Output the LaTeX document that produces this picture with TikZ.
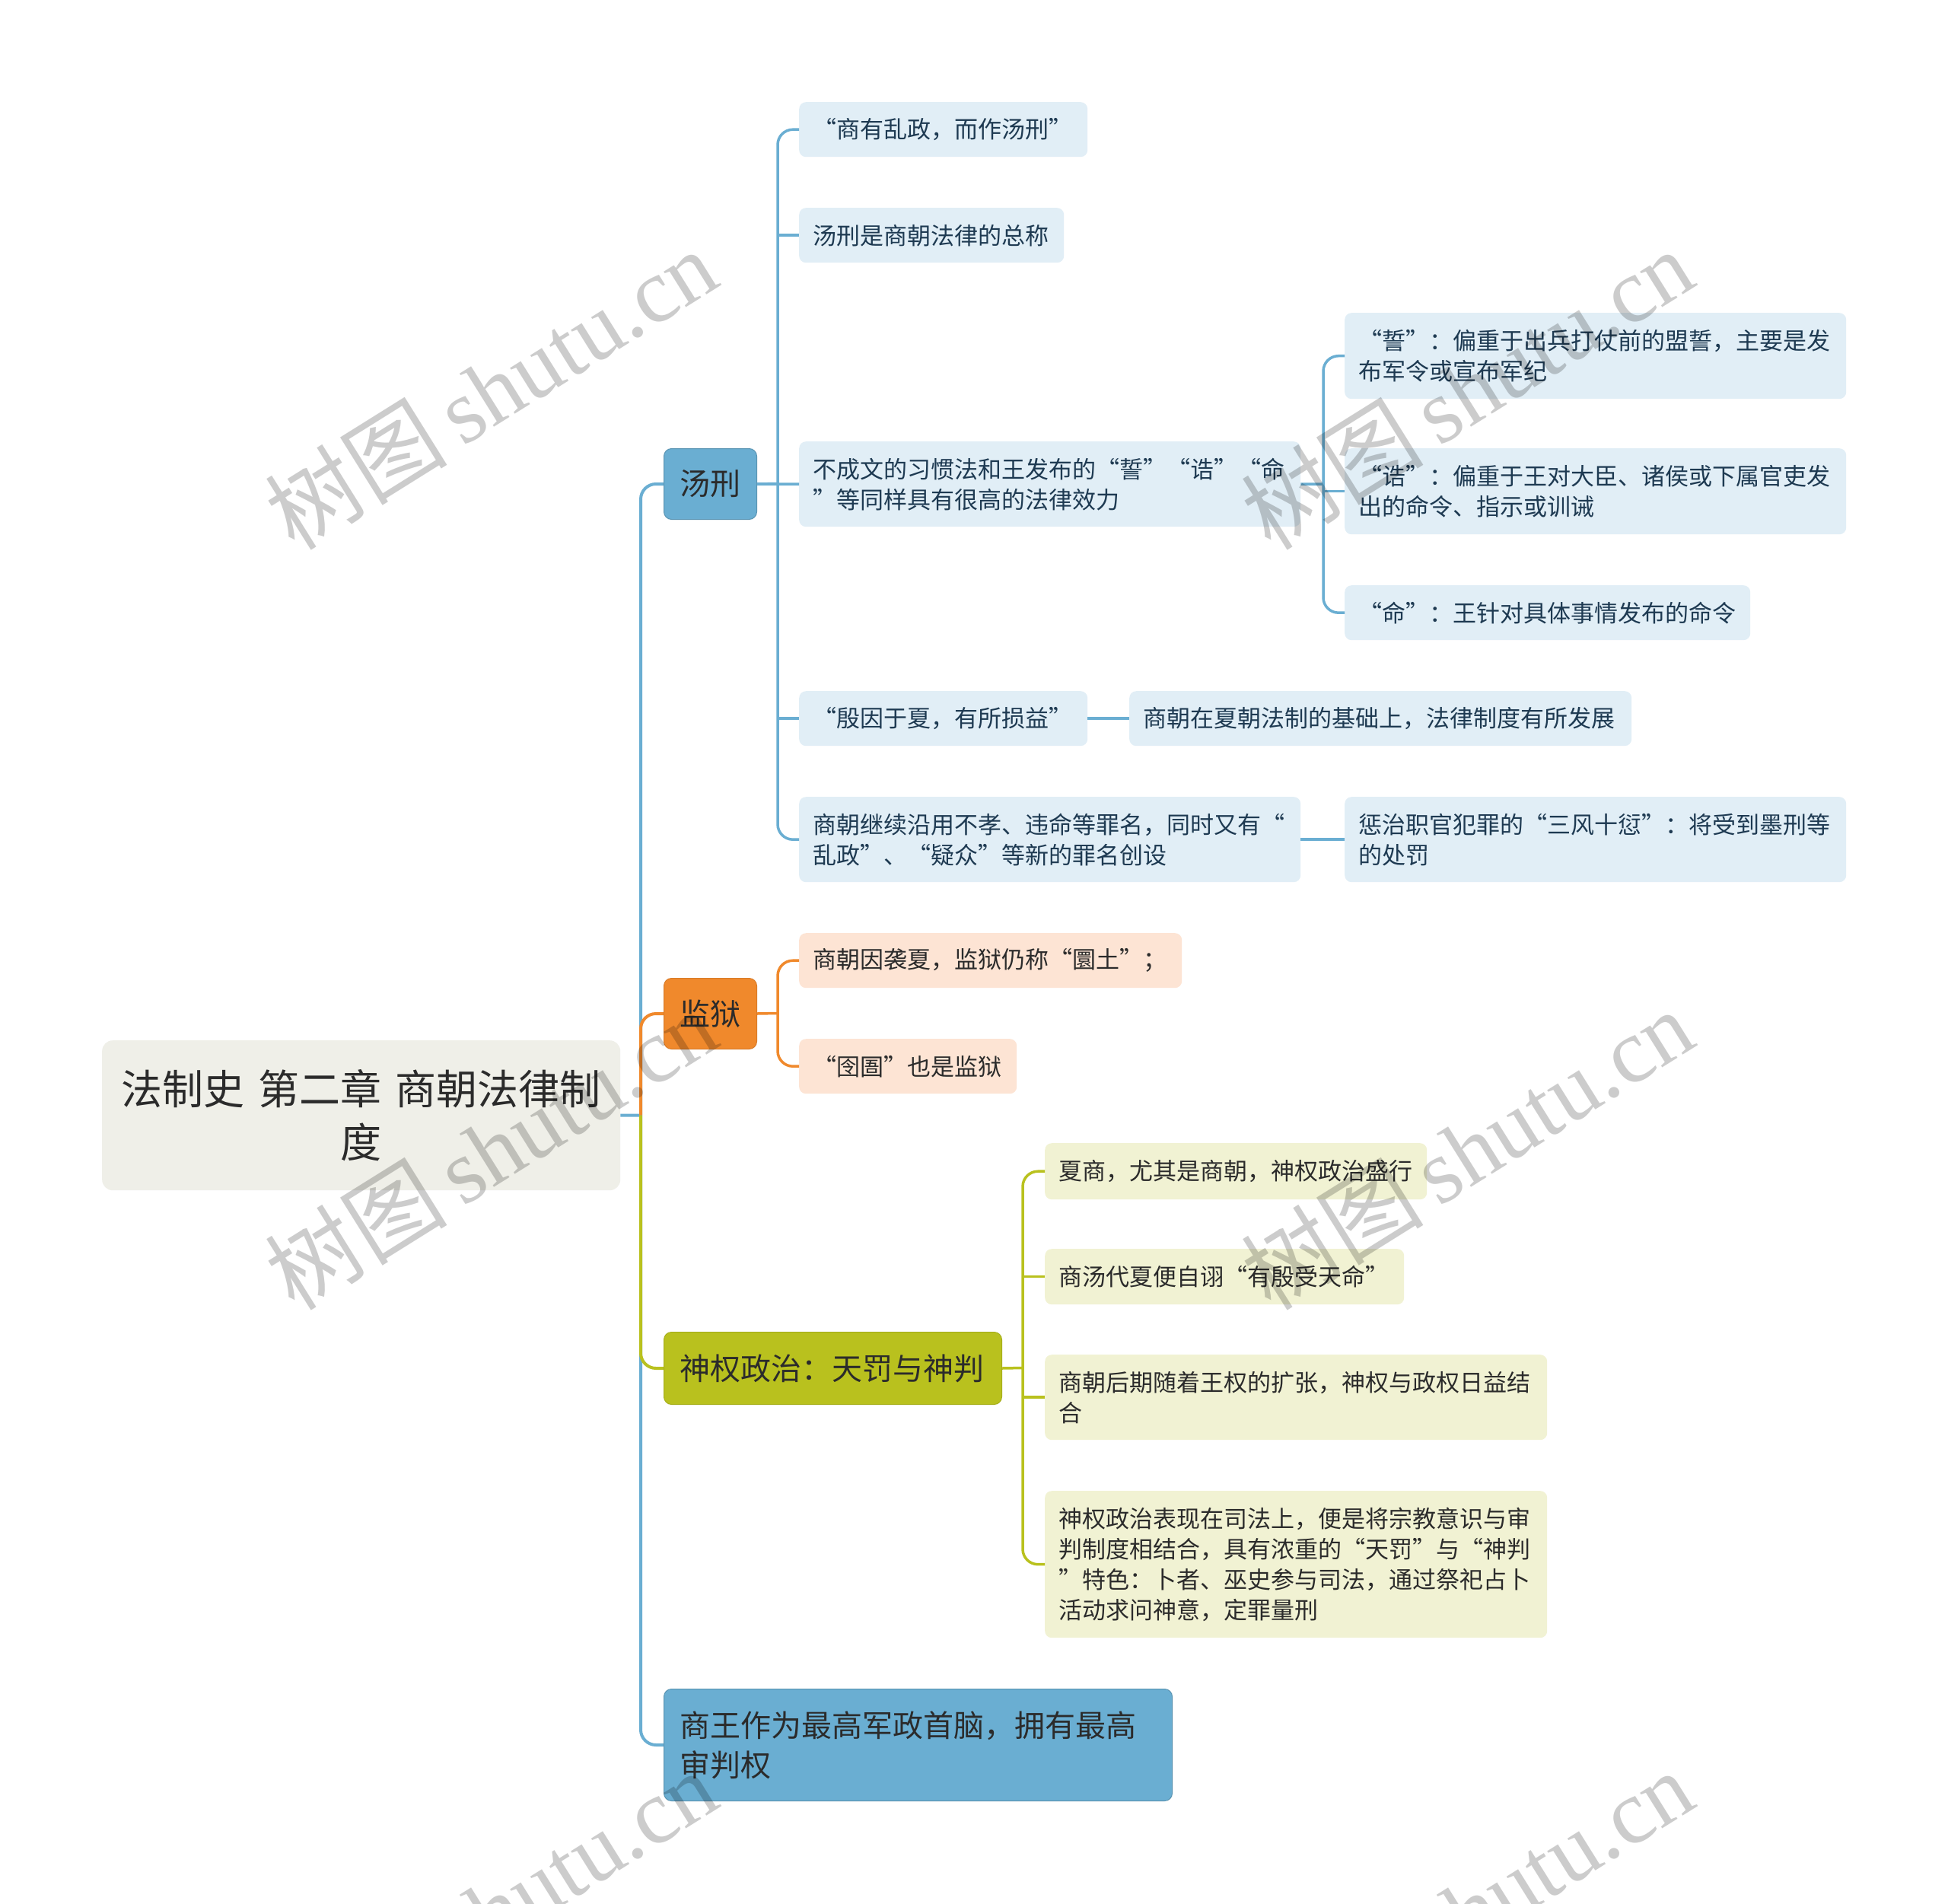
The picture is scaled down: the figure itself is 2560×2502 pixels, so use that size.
\documentclass[tikz,border=0pt]{standalone}
\usepackage{fontspec}
\setmainfont{Noto Sans CJK SC}
\newfontfamily\cjk{Noto Sans CJK SC}
\newfontfamily\wmlat{Liberation Serif}
\definecolor{blueM}{HTML}{6AAED2}
\definecolor{blueL}{HTML}{E1EEF6}
\definecolor{blueT}{HTML}{1E3A52}
\definecolor{orgM}{HTML}{F0892C}
\definecolor{orgL}{HTML}{FDE4D4}
\definecolor{oliM}{HTML}{B9C11E}
\definecolor{oliL}{HTML}{F1F2D3}
\definecolor{rootF}{HTML}{EFEFE8}
\definecolor{txtD}{HTML}{2B2B2B}
\newcommand\oq{\makebox[1em][r]{“}}
\newcommand\cq{\makebox[1em][l]{”}}
\tikzset{
  box/.style={rounded corners=9pt, anchor=north west, inner xsep=18pt, inner ysep=0pt, align=left, font=\cjk\fontsize{31}{40}\selectfont},
  l2b/.style={box, fill=blueL, text=blueT},
  l2o/.style={box, fill=orgL, text=txtD},
  l2y/.style={box, fill=oliL, text=txtD},
  l1/.style={rounded corners=10pt, anchor=north west, inner xsep=21pt, inner ysep=0pt, font=\cjk\fontsize{40}{52}\selectfont, text=txtD, line width=1pt},
  conn/.style={line width=4pt},
  conn2/.style={line width=3.5pt},
  rc/.style={rounded corners=20pt},
  wm/.style={rotate=32, text=black, text opacity=0.2, font=\fontsize{120}{120}\selectfont},
}
\begin{document}
\begin{tikzpicture}[x=1pt,y=-1pt]
\useasboundingbox (0,0) rectangle (2560,2502);
\fill[white] (0,0) rectangle (2560,2502);

% root
\node[rounded corners=14pt, fill=rootF, anchor=north west, minimum height=197pt, text width=641pt, inner xsep=20pt, inner ysep=0pt, align=center, font=\cjk\fontsize{54}{70}\selectfont, text=txtD] (root) at (134,1367) {法制史 第二章 商朝法律制\\度};

% level 1
\node[l1, fill=blueM, draw=blueM!85!black, minimum height=93pt, text width=80pt, align=center] (tx) at (872,589) {汤刑};
\node[l1, fill=orgM, draw=orgM!90!black, minimum height=93pt, text width=80pt, align=center] (jy) at (872,1285) {监狱};
\node[l1, fill=oliM, draw=oliM!90!black, minimum height=95pt, text width=402pt, align=left] (sq) at (872,1750) {神权政治：天罚与神判};
\node[l1, fill=blueM, draw=blueM!85!black, minimum height=147pt, text width=626pt, align=left] (sw) at (872,2219) {商王作为最高军政首脑，拥有最高\\审判权};

% level 2 blue
\node[l2b, minimum height=72pt, text width=343pt] (a1) at (1050,134) {\oq 商有乱政，而作汤刑\cq};
\node[l2b, minimum height=72pt, text width=312pt] (a2) at (1050,273) {汤刑是商朝法律的总称};
\node[l2b, minimum height=112pt, text width=623pt] (a3) at (1050,580) {不成文的习惯法和王发布的\oq 誓\cq\oq 诰\cq\oq 命\\\cq 等同样具有很高的法律效力};
\node[l2b, minimum height=72pt, text width=343pt] (a4) at (1050,908) {\oq 殷因于夏，有所损益\cq};
\node[l2b, minimum height=112pt, text width=623pt] (a5) at (1050,1047) {商朝继续沿用不孝、违命等罪名，同时又有\oq\\乱政\cq 、\oq 疑众\cq 等新的罪名创设};

% level 3 blue
\node[l2b, minimum height=113pt, text width=623pt] (b1) at (1767,411) {\oq 誓\cq ：偏重于出兵打仗前的盟誓，主要是发\\布军令或宣布军纪};
\node[l2b, minimum height=113pt, text width=623pt] (b2) at (1767,589) {\oq 诰\cq ：偏重于王对大臣、诸侯或下属官吏发\\出的命令、指示或训诫};
\node[l2b, minimum height=72pt, text width=497pt] (b3) at (1767,769) {\oq 命\cq ：王针对具体事情发布的命令};
\node[l2b, minimum height=72pt, text width=624pt] (b4) at (1484,908) {商朝在夏朝法制的基础上，法律制度有所发展};
\node[l2b, minimum height=112pt, text width=623pt] (b5) at (1767,1047) {惩治职官犯罪的\oq 三风十愆\cq ：将受到墨刑等\\的处罚};

% level 2 orange
\node[l2o, minimum height=72pt, text width=467pt] (c1) at (1050,1226) {商朝因袭夏，监狱仍称\oq 圜土\cq ；};
\node[l2o, minimum height=72pt, text width=250pt] (c2) at (1050,1365) {\oq 囹圄\cq 也是监狱};

% level 2 olive
\node[l2y, minimum height=74pt, text width=466pt] (d1) at (1373,1502) {夏商，尤其是商朝，神权政治盛行};
\node[l2y, minimum height=73pt, text width=436pt] (d2) at (1373,1641) {商汤代夏便自诩\oq 有殷受天命\cq};
\node[l2y, minimum height=112pt, text width=624pt] (d3) at (1373,1780) {商朝后期随着王权的扩张，神权与政权日益结\\合};
\node[l2y, minimum height=193pt, text width=624pt] (d4) at (1373,1959) {神权政治表现在司法上，便是将宗教意识与审\\判制度相结合，具有浓重的\oq 天罚\cq 与\oq 神判\\\cq 特色：卜者、巫史参与司法，通过祭祀占卜\\活动求问神意，定罪量刑};

% junction coordinates
\coordinate (rj) at (842,1465.5);
\coordinate (txj) at (1022,635.5);
\coordinate (a3j) at (1739,636);
\coordinate (jyj) at (1022,1331.5);
\coordinate (sqj) at (1344,1797.5);

% connectors main
\draw[conn, blueM] (root.east) -- (rj);
\draw[conn, blueM, rc] (tx.west) -| (rj) |- (sw.west);
\draw[conn, orgM, rc] (rj) |- (jy.west);
\draw[conn, oliM, rc] (rj) |- (sq.west);

% tangxing children
\draw[conn2, blueM] (tx.east) -- (txj);
\draw[conn2, blueM, rc] (a1.west) -| (txj) |- (a5.west);
\foreach \c in {a2,a4}{\draw[conn2, blueM] (txj |- \c.west) -- (\c.west);}
\draw[conn2, blueM] (a3.west) -- (tx.east);
\draw[conn2, blueM] (a3.east) -- (a3j);
\draw[conn2, blueM, rc] (b1.west) -| (a3j) |- (b3.west);
\draw[conn2, blueM] (a3j |- b2.west) -- (b2.west);
\draw[conn2, blueM] (a4.east) -- (b4.west);
\draw[conn2, blueM] (a5.east) -- (b5.west);

% jianyu children
\draw[conn2, orgM] (jy.east) -- (jyj);
\draw[conn2, orgM, rc] (c1.west) -| (jyj) |- (c2.west);

% shenquan children
\draw[conn2, oliM] (sq.east) -- (sqj);
\draw[conn2, oliM, rc] (d1.west) -| (sqj) |- (d4.west);
\foreach \c in {d2,d3}{\draw[conn2, oliM] (sqj |- \c.west) -- (\c.west);}

% watermarks
\foreach \px/\py in {645/511, 1928/511, 645/1510, 1928/1510, 645/2510, 1928/2510}{
  \node[wm] (wm) at (\px,\py) {\cjk 树图\,\wmlat shutu.cn};
}
\end{tikzpicture}
\end{document}
